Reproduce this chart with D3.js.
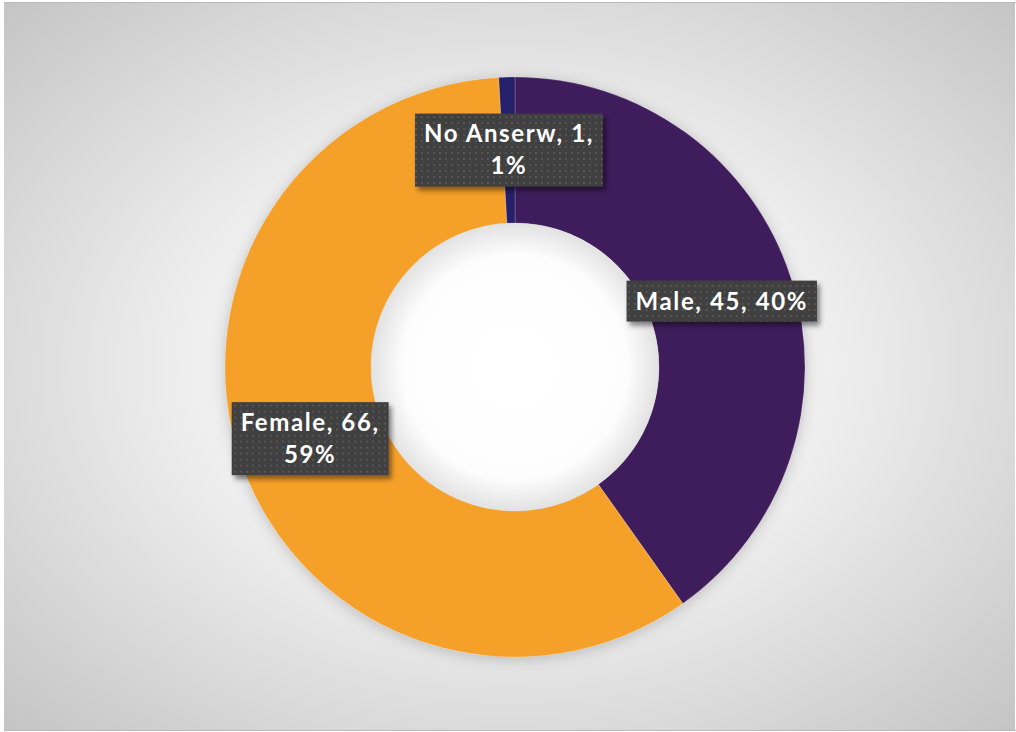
<!DOCTYPE html>
<html>
<head>
<meta charset="utf-8">
<script src="https://cdn.jsdelivr.net/npm/d3@7"></script>
<style>
  html, body { margin: 0; padding: 0; background: #ffffff; }
  svg { display: block; }
</style>
</head>
<body>
<script>
// Respondent gender breakdown
const categories = ["Male", "Female", "No Anserw"];
const counts = [45, 66, 1];
const percentLabels = ["40%", "59%", "1%"];
const sliceColors = ["#3f1c5b", "#f5a029", "#26206a"];
// whether the data label breaks onto a second line before the percentage
const wrapBeforePercent = [false, true, true];

const W = 1016, H = 732;
const cx = 515, cy = 367, outerR = 290, innerR = 144;

const svg = d3.select("body").append("svg")
  .attr("width", W).attr("height", H);

const defs = svg.append("defs");

// chart area background: soft radial light-gray gradient
const bg = defs.append("radialGradient").attr("id", "bgGrad")
  .attr("cx", "50%").attr("cy", "50%").attr("r", "72%");
bg.append("stop").attr("offset", "0%").attr("stop-color", "#f7f7f7");
bg.append("stop").attr("offset", "45%").attr("stop-color", "#eeeeee");
bg.append("stop").attr("offset", "100%").attr("stop-color", "#c3c3c3");

// hole shading
const hole = defs.append("radialGradient").attr("id", "holeGrad")
  .attr("cx", "50%").attr("cy", "50%").attr("r", "50%");
hole.append("stop").attr("offset", "0%").attr("stop-color", "#ffffff");
hole.append("stop").attr("offset", "78%").attr("stop-color", "#fdfdfd");
hole.append("stop").attr("offset", "100%").attr("stop-color", "#e2e2e2");

// soft shadow behind the ring
const ringShadow = defs.append("filter").attr("id", "ringShadow")
  .attr("x", "-20%").attr("y", "-20%").attr("width", "140%").attr("height", "140%");
ringShadow.append("feDropShadow").attr("dx", 0).attr("dy", 2)
  .attr("stdDeviation", 7).attr("flood-color", "#000").attr("flood-opacity", 0.2);

// label box shadow
const boxShadow = defs.append("filter").attr("id", "boxShadow")
  .attr("x", "-20%").attr("y", "-30%").attr("width", "150%").attr("height", "170%");
boxShadow.append("feDropShadow").attr("dx", 3).attr("dy", 4)
  .attr("stdDeviation", 2.5).attr("flood-color", "#000").attr("flood-opacity", 0.45);

// dotted dark fill for label boxes
const pat = defs.append("pattern").attr("id", "dots")
  .attr("width", 6).attr("height", 6).attr("patternUnits", "userSpaceOnUse");
pat.append("rect").attr("width", 6).attr("height", 6).attr("fill", "#3f3f3f");
pat.append("rect").attr("x", 2).attr("y", 2).attr("width", 2).attr("height", 2).attr("fill", "#575757");

// frame
svg.append("rect").attr("x", 4).attr("y", 2).attr("width", W - 5).attr("height", H - 4)
  .attr("fill", "url(#bgGrad)");
svg.append("line").attr("x1", 4).attr("x2", W).attr("y1", 2.5).attr("y2", 2.5)
  .attr("stroke", "#b9b9b9").attr("stroke-width", 1);
svg.append("line").attr("x1", 4).attr("x2", W).attr("y1", H - 1.5).attr("y2", H - 1.5)
  .attr("stroke", "#b9b9b9").attr("stroke-width", 1);

const data = categories.map((c, i) => ({
  category: c, value: counts[i], pct: percentLabels[i],
  color: sliceColors[i], wrap: wrapBeforePercent[i]
}));

const pie = d3.pie().value(d => d.value).sort(null);
const arcs = pie(data);
const arc = d3.arc().innerRadius(innerR).outerRadius(outerR);
const labelArc = d3.arc().innerRadius((innerR + outerR) / 2).outerRadius((innerR + outerR) / 2);

const g = svg.append("g").attr("transform", `translate(${cx},${cy})`);

g.append("circle").attr("r", outerR).attr("fill", "#cfcfcf").attr("filter", "url(#ringShadow)");

g.selectAll("path.slice").data(arcs).join("path")
  .attr("class", "slice")
  .attr("d", arc)
  .attr("fill", d => d.data.color)
  .attr("stroke", "rgba(255,255,255,0.2)")
  .attr("stroke-width", 1);

g.append("circle").attr("r", innerR).attr("fill", "url(#holeGrad)");

// data labels: "Category, value, percent"
const fontSize = 24, lineH = 32, padX = 9, padY = 4;
const labels = g.selectAll("g.label").data(arcs).join("g")
  .attr("class", "label")
  .attr("transform", d => `translate(${labelArc.centroid(d)})`);

labels.each(function(d) {
  const sel = d3.select(this);
  const lines = d.data.wrap
    ? [`${d.data.category}, ${d.data.value},`, d.data.pct]
    : [`${d.data.category}, ${d.data.value}, ${d.data.pct}`];
  const box = sel.append("rect").attr("fill", "url(#dots)").attr("filter", "url(#boxShadow)");
  const text = sel.append("text")
    .attr("text-anchor", "middle")
    .attr("font-family", "Lato, 'Open Sans', sans-serif")
    .attr("font-weight", 700)
    .attr("font-size", fontSize)
    .attr("letter-spacing", 1.6)
    .attr("fill", "#ffffff");
  const y0 = -(lines.length - 1) * lineH / 2;
  lines.forEach((ln, i) => {
    text.append("tspan").attr("x", 0).attr("y", y0 + i * lineH)
      .attr("dy", "0.35em").text(ln);
  });
  let maxW = 0;
  text.selectAll("tspan").each(function() {
    maxW = Math.max(maxW, this.getComputedTextLength());
  });
  const bw = maxW + padX * 2;
  const bh = lines.length * lineH + padY * 2 + 1;
  box.attr("x", -bw / 2).attr("y", -bh / 2).attr("width", bw).attr("height", bh);
});
</script>
</body>
</html>
